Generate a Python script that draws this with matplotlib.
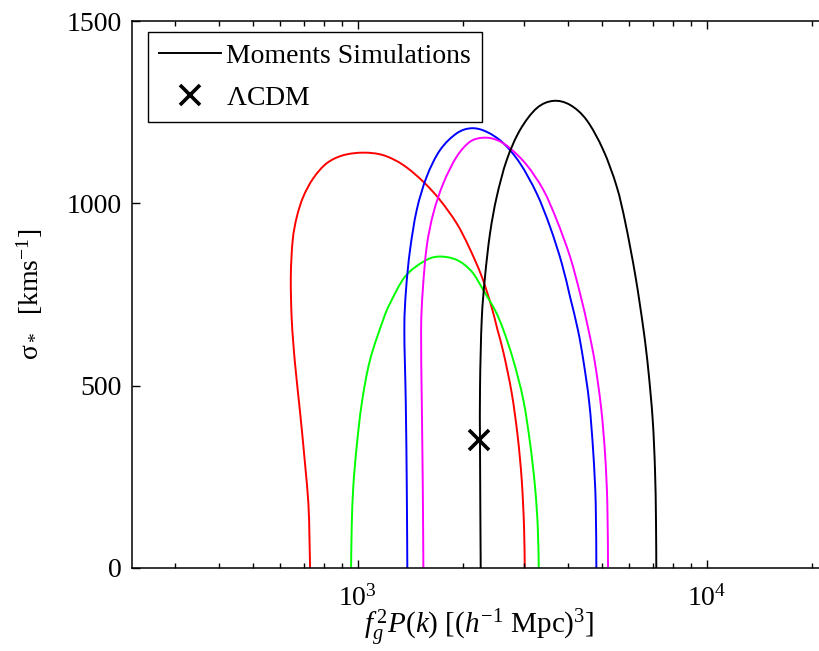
import matplotlib
matplotlib.use("Agg")
import matplotlib.pyplot as plt
import numpy as np
from matplotlib.lines import Line2D
from matplotlib.path import Path
from matplotlib.patches import PathPatch
from matplotlib.ticker import LogLocator, LogFormatterSciNotation, NullFormatter, MultipleLocator


# contour samples: f_g^2 P(k) [(h^-1 Mpc)^3] and sigma_* [km/s]
red_pk = [730, 727, 722, 706, 684, 661, 647, 643, 651, 669, 698, 746, 815, 909,
	1038, 1184, 1351, 1542, 1721, 1921, 2084, 2263, 2410, 2515, 2617, 2763,
	2874, 2951, 2996, 3010]
red_sig = [0, 86, 177, 287, 424, 561, 680, 799, 899, 963, 1018, 1069, 1110, 1132,
	1139, 1132, 1105, 1059, 1009, 945, 880, 801, 721, 653, 590, 479,
	360, 241, 113, 0]

green_pk = [957, 961, 971, 993, 1027, 1084, 1182, 1238, 1366, 1542, 1702, 1921,
	2121, 2290, 2474, 2614, 2791, 2982, 3118, 3221, 3280, 3302]
green_sig = [0, 113, 223, 333, 452, 570, 680, 726, 799, 840, 854, 845,
	813, 762, 707, 653, 570, 461, 342, 223, 113, 0]

blue_pk = [1387, 1382, 1373, 1360, 1375, 1412, 1476, 1576, 1721, 1921, 2121,
	2343, 2614, 2917, 3258, 3556, 3842, 4058, 4275, 4430, 4609, 4732,
	4808, 4828]
blue_sig = [0, 223, 452, 653, 762, 872, 982, 1073, 1146, 1192, 1206,
	1196, 1165, 1110, 1027, 936, 836, 744, 653, 570, 452, 315,
	177, 0]

magenta_pk = [1542, 1536, 1526, 1519, 1536, 1576, 1647, 1759, 1921, 2098, 2290,
	2502, 2732, 3050, 3402, 3718, 4058, 4335, 4585, 4786, 4979, 5112,
	5191, 5215]
magenta_sig = [0, 223, 452, 653, 762, 881, 973, 1055, 1128, 1169, 1180,
	1174, 1151, 1105, 1037, 954, 854, 753, 653, 561, 442, 315,
	177, 0]

black_pk = [2251, 2241, 2241, 2266, 2316, 2394, 2502, 2673, 2917, 3258, 3635,
	4058, 4531, 5054, 5522, 5852, 6252, 6592, 6803, 7003, 7110, 7156, 7171]
black_sig = [0, 315, 497, 680, 799, 918, 1018, 1119, 1201, 1261, 1281,
	1270, 1228, 1146, 1046, 945, 799, 653, 543, 406, 269, 132, 0]

lcdm_pk = [2230]
lcdm_sig = [350]


def smooth_contour(ax, xs, ys, color, lw):
	# Catmull-Rom through the samples, built in log-x space so the
	# bezier control points stay straight on screen
	u = np.log10(np.asarray(xs, dtype=float))
	v = np.asarray(ys, dtype=float)
	pts = np.column_stack([u, v])
	ext = np.vstack([pts[0], pts, pts[-1]])
	verts = [pts[0]]
	codes = [Path.MOVETO]
	for i in range(len(pts) - 1):
		p0, p1, p2, p3 = ext[i], ext[i + 1], ext[i + 2], ext[i + 3]
		c1 = p1 + (p2 - p0) / 6.0
		c2 = p2 - (p3 - p1) / 6.0
		verts += [c1, c2, p2]
		codes += [Path.CURVE4] * 3
	verts = np.array(verts)
	verts[:, 0] = 10 ** verts[:, 0]
	patch = PathPatch(Path(verts, codes), facecolor="none", edgecolor=color,
		linewidth=lw, capstyle="butt", joinstyle="round")
	ax.add_patch(patch)


plt.rcParams["font.family"] = ["Liberation Serif", "DejaVu Serif"]
plt.rcParams["mathtext.fontset"] = "custom"
plt.rcParams["mathtext.rm"] = "Liberation Serif"
plt.rcParams["mathtext.it"] = "Liberation Serif:italic"
plt.rcParams["mathtext.bf"] = "Liberation Serif:bold"

fontsize = 20
linewidth = 1.4

fig = plt.figure(figsize=(8.19, 6.51), dpi=100)
ax = fig.add_axes([0.1608, 0.1275, 0.8725, 0.8402])

smooth_contour(ax, red_pk, red_sig, (1, 0, 0), linewidth)
smooth_contour(ax, green_pk, green_sig, (0, 1, 0), linewidth)
smooth_contour(ax, blue_pk, blue_sig, (0, 0, 1), linewidth)
smooth_contour(ax, magenta_pk, magenta_sig, (1, 0, 1), linewidth)
smooth_contour(ax, black_pk, black_sig, "black", linewidth)
lcdm, = ax.plot(lcdm_pk, lcdm_sig, linestyle="none", marker="x", color="black",
	markersize=15, markeredgewidth=2.6)

ax.set_xscale("log")
ax.set_xlim(225, 25119)
ax.set_ylim(0, 1500)

ax.xaxis.set_major_locator(LogLocator(base=10, numticks=10))
ax.xaxis.set_major_formatter(LogFormatterSciNotation())
ax.xaxis.set_minor_locator(LogLocator(base=10, subs=range(2, 10), numticks=20))
ax.xaxis.set_minor_formatter(NullFormatter())
ax.yaxis.set_major_locator(MultipleLocator(500))

ax.tick_params(which="both", direction="in", top=True, right=True,
	labelsize=fontsize, width=1.0)
ax.tick_params(which="major", length=6, pad=7)
ax.tick_params(which="minor", length=3.5)
ax.tick_params(axis="x", which="major", pad=12)
for spine in ax.spines.values():
	spine.set_linewidth(1.1)

ax.set_xlabel(r"$f_g^{\,2}P(k)$ [($h^{-1}$ Mpc)$^3$]", fontsize=21)
ax.xaxis.set_label_coords(0.486, -0.072)
ax.set_ylabel(r"σ$_*$  [kms$^{-1}$]", fontsize=fontsize)
ax.yaxis.set_label_coords(-0.121, 0.5)

sim_handle = Line2D([], [], color="black", linewidth=linewidth)
leg = ax.legend([sim_handle, lcdm], ["Moments Simulations", r"$\Lambda$CDM"],
	loc="upper left", bbox_to_anchor=(0.023, 0.98),
	borderaxespad=0, fontsize=fontsize, fancybox=False, framealpha=1,
	edgecolor="black", handlelength=2.23, handletextpad=0.18,
	labelspacing=0.6, borderpad=0.4)
leg.get_frame().set_linewidth(1.0)

fig.savefig("out.png", dpi=100)
plt.close(fig)
